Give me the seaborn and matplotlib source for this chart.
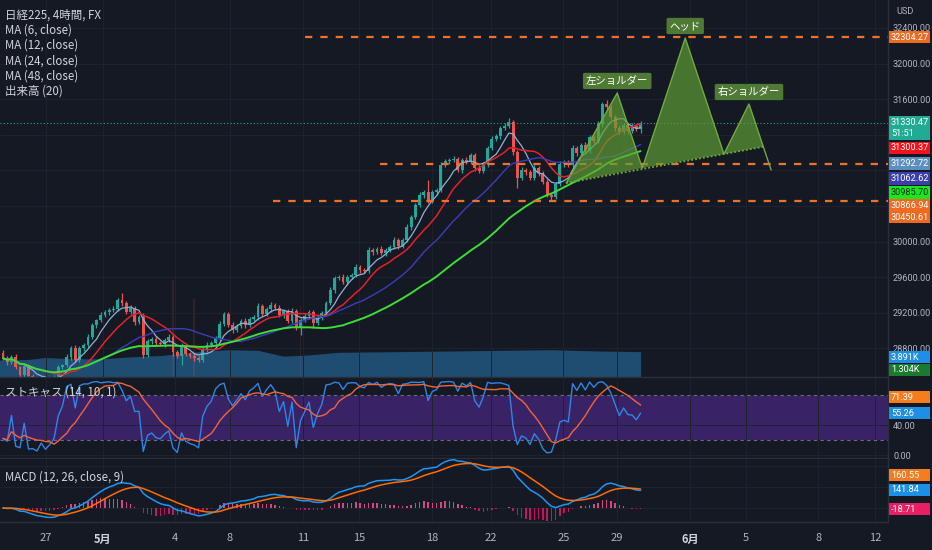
"""
日経225 4時間足 — 三尊 (head & shoulders) sketch with MA, volume, stochastic, MACD
"""

import numpy as np
import pandas as pd
import matplotlib
matplotlib.use("Agg")
import matplotlib.pyplot as plt
from matplotlib.patches import Rectangle
import seaborn as sns

# ── Data ───────────────────────────────────────────────────────────────────────
first_open = 28750
closes = [
    28692, 28647, 28703, 28591, 28501, 28602, 28490, 28455, 28430, 28465,
    28415, 28440, 28470, 28591, 28613, 28703, 28804, 28670, 28804, 28838,
    28928, 29063, 29119, 29175, 29209, 29231, 29243, 29344, 29310, 29209,
    29254, 29097, 29153, 28726, 28883, 28906, 28861, 28849, 28894, 28928,
    28760, 28715, 28827, 28737, 28715, 28692, 28670, 28793, 28838, 28861,
    28917, 29074, 29187, 29063, 29007, 29052, 29108, 29063, 29130, 29153,
    29276, 29187, 29243, 29288, 29254, 29175, 29220, 29108, 29220, 29040,
    29119, 29164, 29209, 29085, 29153, 29198, 29310, 29456, 29591, 29602,
    29546, 29602, 29625, 29715, 29681, 29670, 29905, 29883, 29917, 29872,
    29905, 29939, 30018, 29951, 30018, 30164, 30276, 30411, 30524, 30557,
    30456, 30557, 30580, 30861, 30906, 30917, 30928, 30805, 30917, 30894,
    30973, 30827, 30793, 30872, 31052, 31153, 31187, 31277, 31299, 31344,
    31007, 30715, 30805, 30782, 30715, 30827, 30771, 30670, 30524, 30501,
    30647, 30872, 30894, 30861, 31052, 30996, 31085, 31029, 31176, 31130,
    31321, 31546, 31512, 31400, 31277, 31232, 31310, 31243, 31299, 31265,
    31330,
]
wick_hi = [
    30, 25, 20, 30, 15, 25, 20, 25, 20, 15,
    25, 20, 30, 20, 15, 30, 25, 35, 20, 25,
    30, 20, 15, 30, 25, 20, 30, 25, 80, 25,
    30, 20, 25, 40, 25, 20, 30, 25, 20, 30,
    25, 20, 30, 25, 20, 30, 25, 20, 30, 25,
    20, 30, 25, 20, 30, 25, 20, 30, 25, 20,
    30, 25, 20, 30, 25, 35, 20, 25, 30, 20,
    25, 30, 20, 25, 30, 20, 25, 30, 20, 25,
    30, 20, 25, 30, 20, 25, 30, 20, 25, 30,
    20, 25, 30, 20, 25, 30, 20, 25, 30, 20,
    130, 25, 20, 30, 25, 20, 30, 25, 20, 30,
    25, 20, 30, 25, 20, 30, 25, 20, 30, 45,
    20, 25, 30, 20, 25, 30, 20, 25, 30, 20,
    25, 30, 20, 25, 30, 20, 25, 30, 20, 25,
    30, 25, 45, 20, 25, 30, 20, 25, 30, 20,
    25,
]
wick_lo = [
    25, 30, 20, 25, 30, 20, 25, 30, 20, 25,
    30, 20, 25, 30, 20, 25, 30, 20, 25, 30,
    20, 25, 30, 20, 25, 30, 20, 25, 30, 20,
    25, 30, 20, 35, 25, 30, 20, 25, 30, 20,
    40, 25, 100, 20, 25, 30, 20, 25, 30, 20,
    25, 30, 20, 25, 30, 20, 25, 30, 20, 25,
    30, 20, 25, 30, 20, 25, 30, 20, 25, 30,
    90, 25, 30, 60, 25, 30, 20, 25, 30, 20,
    25, 30, 20, 25, 30, 20, 25, 30, 20, 25,
    30, 20, 25, 30, 20, 25, 30, 20, 25, 30,
    20, 25, 30, 20, 25, 30, 20, 25, 30, 20,
    25, 30, 20, 25, 30, 20, 25, 30, 20, 25,
    30, 110, 25, 30, 20, 25, 30, 20, 25, 35,
    20, 25, 30, 20, 25, 30, 20, 25, 30, 20,
    25, 30, 20, 25, 30, 20, 25, 30, 20, 25,
    45,
]

# volume MA(20) outline (bar index, thousands) and the few tall volume bars
vol_idx   = [-1, 6, 10, 16, 23, 30, 37, 46, 53, 60, 66, 72, 79, 93, 105, 117, 129, 140, 150]
vol_ma    = [2.6, 2.7, 3.0, 2.8, 2.8, 3.1, 3.3, 3.9, 4.2, 4.1, 3.2, 3.4, 3.8, 3.9, 4.0, 4.1, 4.2, 4.0, 3.9]
spike_idx = [40, 45, 70]
spike_vol = [15.0, 12.0, 11.0]

MA_LEN    = [6, 12, 24, 48]
MA_COLORS = ["#8fb0d6", "#e3232c", "#3d3db8", "#3fdc3a"]
MA_LW     = [0.9, 1.1, 1.0, 1.4]

# horizontal levels (price, start bar)
levels      = [32304.27, 30866.94, 30450.61]
level_start = [71.1, 88.7, 63.5]

# head & shoulders points (bar index, price)
hs_x = [132.5, 144.5, 150.4, 160.5, 169.6, 175.5, 180.7]
hs_y = [30658, 31670, 30827, 32288, 30984, 31546, 30805]
hs_labels = ["左ショルダー", "ヘッド", "右ショルダー"]

tick_pos    = [10.1, 23.5, 40.5, 53.4, 70.6, 83.8, 100.9, 114.8, 131.8, 144.5, 161.6, 174.8, 191.8, 205.2]
tick_labels = ["27", "5月", "4", "8", "11", "15", "18", "22", "25", "29", "6月", "5", "8", "12"]

# price-axis ticks; the ones hidden under value tags in the reference are left blank
price_ticks  = [28800, 29200, 29600, 30000, 30400, 30800, 31200, 31600, 32000, 32400]
price_labels = ["28800.00", "29200.00", "29600.00", "30000.00", "", "", "",
                "31600.00", "32000.00", "32400.00"]

legend_lines = ["日経225, 4時間, FX", "MA (6, close)", "MA (12, close)",
                "MA (24, close)", "MA (48, close)", "出来高 (20)"]

# right-axis value tags: text, y pixel (centre), box colour, text colour
value_tags = [
    ("32304.27", 37, "#ee6a1f", "white"),
    ("31330.47\n51:51", 128, "#22ab94", "white"),
    ("31300.37", 148, "#f5121c", "white"),
    ("31292.72", 163.5, "#5a8fbf", "white"),
    ("31062.62", 178.5, "#3b3fae", "white"),
    ("30985.70", 192.5, "#1ee61e", "#10301a"),
    ("30866.94", 205, "#ee6a1f", "white"),
    ("30450.61", 217, "#ee6a1f", "white"),
    ("3.891K", 357, "#1e8fe6", "white"),
    ("1.304K", 370, "#1b7a30", "white"),
    ("71.39", 397, "#f57c1f", "white"),
    ("55.26", 413, "#1e8fe6", "white"),
    ("160.55", 475, "#f57c1f", "white"),
    ("141.84", 490, "#1e8fe6", "white"),
    ("-18.71", 509, "#e91e63", "white"),
]

# ── Style ──────────────────────────────────────────────────────────────────────
BG, GRID, SEP, TXT = "#151924", "#1f2330", "#2a2e39", "#b2b5be"
UP, DOWN = "#26a69a", "#ef5350"
ORANGE = "#f0712c"
HS_FILL, HS_EDGE, HS_TAG = "#5fa033", "#74a844", "#4f7a35"
NARROW = ["Roboto", "DejaVu Sans"]
AX_FS = 6.6

sns.set_theme(style="dark", rc={"axes.facecolor": BG, "figure.facecolor": BG,
                                 "text.color": TXT, "xtick.color": TXT,
                                 "ytick.color": TXT, "axes.edgecolor": SEP})
plt.rcParams["font.family"] = ["Noto Sans CJK JP", "DejaVu Sans"]

W, H = 932, 550
fig = plt.figure(figsize=(W / 100, H / 100), dpi=100)


def px_axes(top, bottom, right=888):
    return fig.add_axes([0, 1 - bottom / H, right / W, (bottom - top) / H])


ax_p = px_axes(0, 377)
ax_s = px_axes(378, 458)
ax_m = px_axes(459, 522)
ax_v = ax_p.twinx()
ax_p.set_zorder(ax_v.get_zorder() + 1)
ax_p.patch.set_visible(False)

# ── Derived series ─────────────────────────────────────────────────────────────
idx = np.arange(len(closes))
close = pd.Series(closes, dtype=float)
opens = pd.Series([first_open] + closes[:-1], dtype=float)
highs = np.maximum(opens, close) + np.array(wick_hi)
lows = np.minimum(opens, close) - np.array(wick_lo)
cols = np.where(close >= opens, UP, DOWN)

# ── Price panel ────────────────────────────────────────────────────────────────
ax_v.fill_between(vol_idx, 0, vol_ma, color="#1f4d72", lw=0)
ax_v.bar(spike_idx, spike_vol, width=0.45, color=DOWN, alpha=0.14, lw=0)
ax_v.set_ylim(0, 58)
ax_v.set_yticks([])
for s in ax_v.spines.values():
    s.set_visible(False)

ax_p.axhline(closes[-1], color=UP, lw=0.8, ls=(0, (1, 2)), zorder=1)
ax_p.vlines(idx, lows, highs, colors=cols, lw=0.9, zorder=2)
ax_p.bar(idx, np.maximum(np.abs(close - opens), 6), bottom=np.minimum(opens, close),
         width=0.68, color=cols, lw=0, zorder=2)

for n, c, lw in zip(MA_LEN, MA_COLORS, MA_LW):
    ma = close.rolling(n, min_periods=1).mean()
    sns.lineplot(x=idx, y=ma.values, ax=ax_p, color=c, lw=lw, zorder=3)

for lv, x0 in zip(levels, level_start):
    ax_p.plot([x0, 212], [lv, lv], color=ORANGE, lw=1.6, ls=(0, (3.3, 3.6)), zorder=3)

# head & shoulders drawing
P = np.column_stack([hs_x, hs_y])


def intersect(a1, a2, b1, b2):
    d1, d2 = a2 - a1, b2 - b1
    t = np.cross(b1 - a1, d2) / np.cross(d1, d2)
    return a1 + t * d1


Q = intersect(P[0], P[4], P[5], P[6])
for tri in ([P[0], P[1], P[2]], [P[2], P[3], P[4]], [P[4], P[5], Q]):
    tri = np.array(tri)
    ax_p.fill(tri[:, 0], tri[:, 1], color=HS_FILL, alpha=0.68, lw=0, zorder=4)
ax_p.plot(hs_x, hs_y, color=HS_EDGE, lw=1, zorder=5)
ax_p.plot([P[0, 0], Q[0]], [P[0, 1], Q[1]], color=HS_EDGE, lw=1.3, ls=(0, (1, 1.2)), zorder=5)
for k, lab in zip([1, 3, 5], hs_labels):
    ax_p.annotate(lab, xy=P[k], xytext=(0, 12), textcoords="offset pixels",
                  ha="center", va="center", fontsize=7.5, color="white", zorder=6,
                  bbox=dict(boxstyle="round,pad=0.3,rounding_size=0.15", fc=HS_TAG, ec="none"))

ax_p.set_ylim(28478.6, 32714.6)
ax_p.set_yticks(price_ticks)
ax_p.set_yticklabels(price_labels)

# ── Stochastic panel ───────────────────────────────────────────────────────────
hh = pd.Series(highs).rolling(14, min_periods=1).max()
ll = pd.Series(lows).rolling(14, min_periods=1).min()
stoch_k = 100 * (close - ll) / (hh - ll)
stoch_d = stoch_k.rolling(10, min_periods=1).mean()

ax_s.axhspan(20, 80, color="#3a2266", lw=0, zorder=0)
for lv in (20, 80):
    ax_s.axhline(lv, color="#6e6a86", lw=0.8, ls=(0, (3, 3)), zorder=1)
sns.lineplot(x=idx, y=stoch_k.values, ax=ax_s, color="#2f86e6", lw=1.0, zorder=3)
sns.lineplot(x=idx, y=stoch_d.values, ax=ax_s, color="#f0663a", lw=1.0, zorder=3)
ax_s.set_ylim(-4, 102.7)
ax_s.set_yticks([0, 40, 80])
ax_s.set_yticklabels(["0.00", "40.00", ""])

# ── MACD panel ─────────────────────────────────────────────────────────────────
macd = close.ewm(span=12, adjust=False).mean() - close.ewm(span=26, adjust=False).mean()
signal = macd.ewm(span=9, adjust=False).mean()
hist = macd - signal
ax_m.bar(idx, hist, width=0.35, color=np.where(hist >= 0, "#d24a7c", "#c2185b"), lw=0)
sns.lineplot(x=idx, y=macd.values, ax=ax_m, color="#2196f3", lw=1.1, zorder=3)
sns.lineplot(x=idx, y=signal.values, ax=ax_m, color="#ff6d00", lw=1.1, zorder=3)
ax_m.set_ylim(-100, 350)
ax_m.set_yticks([0, 150, 300])
ax_m.set_yticklabels([])

# ── Axes cosmetics ─────────────────────────────────────────────────────────────
for ax in (ax_p, ax_s, ax_m):
    ax.set_xlim(-0.7, 208.2)
    ax.set_xticks(tick_pos)
    ax.set_xlabel("")
    ax.set_ylabel("")
    ax.grid(True, color=GRID, lw=0.7)
    ax.set_axisbelow(True)
    ax.yaxis.tick_right()
    ax.tick_params(axis="y", length=0, pad=3.6, labelsize=AX_FS, colors=TXT)
    ax.tick_params(axis="x", length=0, labelbottom=False)
    for side, s in ax.spines.items():
        s.set_visible(side in ("bottom", "right"))
        s.set_color(SEP)
        s.set_linewidth(1)
    for t in ax.get_yticklabels():
        t.set_family(NARROW)

ax_m.tick_params(axis="x", labelbottom=True, pad=8, labelsize=8, colors=TXT)
ax_m.set_xticklabels(tick_labels)
for t in ax_m.get_xticklabels():
    t.set_family(["Noto Sans CJK JP", "DejaVu Sans"])
    if "月" in t.get_text():
        t.set_fontweight("bold")
        t.set_color("#d1d4dc")

# ── Texts ──────────────────────────────────────────────────────────────────────
for k, line in enumerate(legend_lines):
    fig.text(5 / W, 1 - (15 + 15.2 * k) / H, line, fontsize=8.3, color="#d1d4dc", va="center")
fig.text(5 / W, 1 - 392 / H, "ストキャス (14, 10, 1)", fontsize=8.3, color="#d1d4dc", va="center")
fig.text(5 / W, 1 - 477 / H, "MACD (12, 26, close, 9)", fontsize=8.3, color="#d1d4dc", va="center")
fig.text(896 / W, 1 - 12 / H, "USD", fontsize=6.6, color=TXT, va="center", family=NARROW)

for txt, yc, fc, tc in value_tags:
    h = 24 if "\n" in txt else 12.5
    fig.patches.append(Rectangle((889 / W, 1 - (yc + h / 2) / H), 41 / W, h / H,
                                 transform=fig.transFigure, color=fc, lw=0, zorder=5))
    fig.text(891 / W, 1 - yc / H, txt, fontsize=AX_FS, color=tc, va="center", ha="left",
             family=NARROW, linespacing=1.25, zorder=6)

plt.savefig("out.png", dpi=100, facecolor=BG)
